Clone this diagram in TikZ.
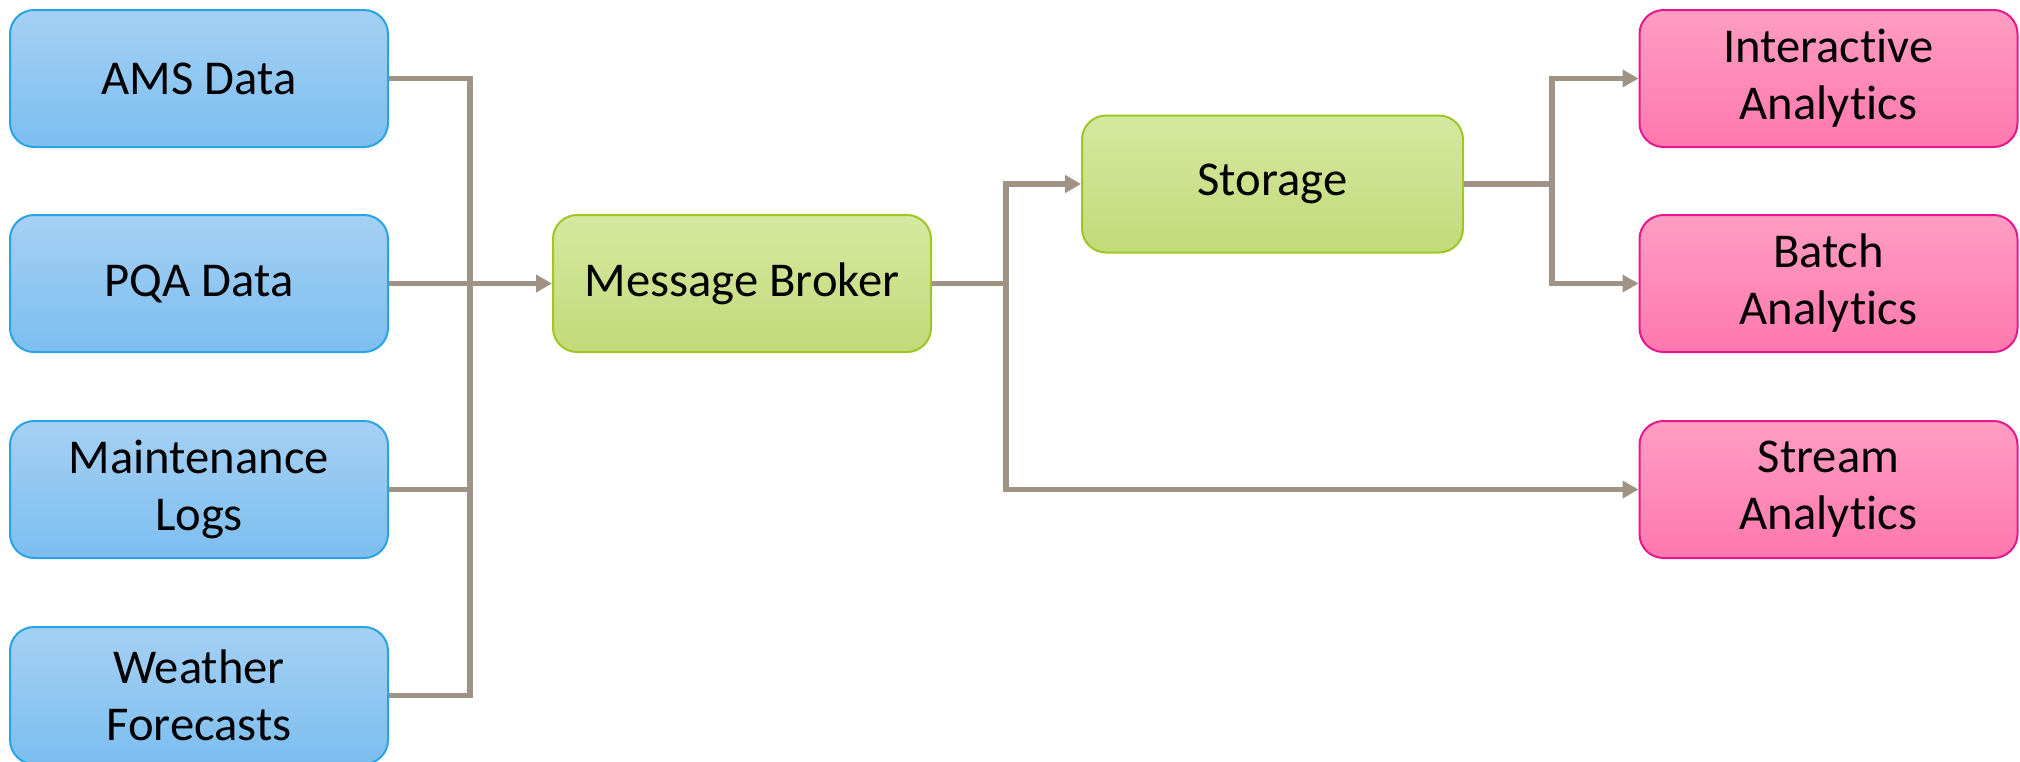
\documentclass[tikz,border=0pt]{standalone}
\usepackage{fontspec}
\setmainfont[Ligatures={NoCommon,NoRare,NoContextual},Contextuals=NoAlternate]{Carlito}
\usetikzlibrary{arrows.meta}
\definecolor{blueTop}{HTML}{A5D0F4}
\definecolor{blueBot}{HTML}{7CBEEF}
\definecolor{blueLine}{HTML}{29A3E3}
\definecolor{greenTop}{HTML}{D6E8A0}
\definecolor{greenBot}{HTML}{C2DA78}
\definecolor{greenLine}{HTML}{9FC526}
\definecolor{pinkTop}{HTML}{FF9DC2}
\definecolor{pinkBot}{HTML}{FF78AE}
\definecolor{pinkLine}{HTML}{E8178E}
\definecolor{connGray}{HTML}{A09385}
\tikzset{
  boxbase/.style={rounded corners=12pt, line width=1pt, minimum width=189pt,
    minimum height=68.5pt, align=center, inner sep=0pt,
    font=\fontsize{24.3}{28.5}\selectfont},
  srcbox/.style={boxbase, draw=blueLine, top color=blueTop, bottom color=blueBot},
  midbox/.style={boxbase, draw=greenLine, top color=greenTop, bottom color=greenBot},
  outbox/.style={boxbase, draw=pinkLine, top color=pinkTop, bottom color=pinkBot},
  conn/.style={draw=connGray, line width=2.9pt},
  flow/.style={conn, -{Triangle[length=8pt,width=8.5pt]}},
}
\begin{document}
\begin{tikzpicture}[x=0.5pt,y=-0.5pt]
\useasboundingbox (0,0) rectangle (2020,761);

% sources
\node[srcbox] (ams)   at (199,78.5)  {AMS Data};
\node[srcbox] (pqa)   at (199,283.5) {PQA Data};
\node[srcbox] (mlogs) at (199,489.5) {Maintenance\\Logs};
\node[srcbox] (wf)    at (199,695.5) {Weather\\Forecasts};

% processing
\node[midbox] (broker)  at (742,283.5)  {Message Broker};
\node[midbox, minimum width=190.5pt] (storage) at (1272.5,184) {Storage};

% analytics
\node[outbox] (inter)  at (1828.5,78.5)  {Interactive\\Analytics};
\node[outbox] (batch)  at (1828.5,283.5) {Batch\\Analytics};
\node[outbox] (stream) at (1828.5,489.5) {Stream\\Analytics};

% collecting bus on the left
\coordinate (busT) at (470,78.5);
\coordinate (busB) at (470,695.5);
\draw[conn] (ams.east) -- (busT) -- (busB) -- (wf.east);
\draw[conn] (mlogs.east) -- (mlogs.east -| busT);
\draw[flow] (pqa.east) -- (broker.west);

% broker fan-out
\coordinate (fork) at (1006,283.5);
\draw[conn] (broker.east) -- (fork);
\draw[flow] (fork) |- (storage.west);
\draw[flow] (fork) |- (stream.west);

% storage fan-out
\coordinate (sfork) at (1552,184);
\draw[conn] (storage.east) -- (sfork);
\draw[flow] (sfork) |- (inter.west);
\draw[flow] (sfork) |- (batch.west);
\end{tikzpicture}
\end{document}
